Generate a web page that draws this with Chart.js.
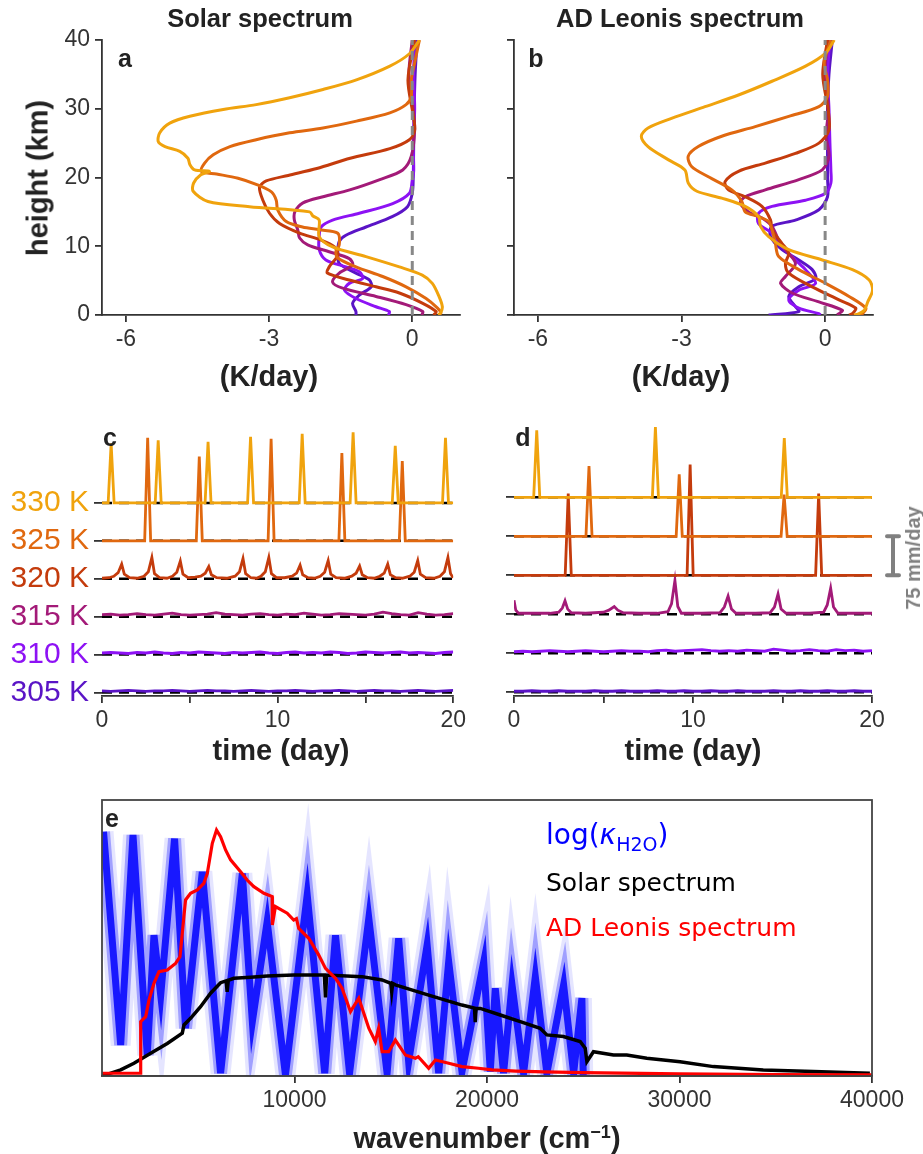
<!DOCTYPE html>
<html><head><meta charset="utf-8">
<script src="https://cdn.jsdelivr.net/npm/chart.js@4/dist/chart.umd.min.js"></script>
<style>
body{margin:0;background:#fff;width:923px;height:1154px;position:relative;overflow:hidden;font-family:"Liberation Sans",Arial,sans-serif;color:#222;}
canvas{position:absolute;}
.t{position:absolute;white-space:nowrap;transform:translate(-50%,-50%);line-height:1;}
.b{font-weight:bold;}
</style></head><body>
<canvas id="ca" width="470" height="400" style="left:0;top:0"></canvas>
<canvas id="cb" width="453" height="400" style="left:470px;top:0"></canvas>
<canvas id="cc" width="470" height="370" style="left:0;top:400px"></canvas>
<canvas id="cd" width="453" height="370" style="left:470px;top:400px"></canvas>
<canvas id="ce" width="923" height="374" style="left:0;top:780px"></canvas>

<div class="t b" style="left:260px;top:19px;font-size:25.5px">Solar spectrum</div>
<div class="t b" style="left:680px;top:19px;font-size:25.5px">AD Leonis spectrum</div>
<div class="t b" style="left:38px;top:178px;font-size:29px;transform:translate(-50%,-50%) rotate(-90deg)">height (km)</div>
<div class="t b" style="left:269px;top:376px;font-size:29px">(K/day)</div>
<div class="t b" style="left:681px;top:376px;font-size:29px">(K/day)</div>
<div class="t b" style="left:281px;top:750px;font-size:29px">time (day)</div>
<div class="t b" style="left:693px;top:750px;font-size:29px">time (day)</div>
<div class="t b" style="left:487px;top:1138px;font-size:29px">wavenumber (cm<sup style="font-size:18px">−1</sup>)</div>
<div class="t b" style="left:125px;top:58px;font-size:25px">a</div>
<div class="t b" style="left:536px;top:58px;font-size:25px">b</div>
<div class="t b" style="left:110px;top:437px;font-size:25px">c</div>
<div class="t b" style="left:523px;top:437px;font-size:25px">d</div>
<div class="t b" style="left:112px;top:818px;font-size:25px">e</div>
<div class="t b" style="left:913px;top:558px;font-size:20px;color:#808080;transform:translate(-50%,-50%) rotate(-90deg)">75 mm/day</div>
<div style="position:absolute;left:546px;top:818px;font-size:28px;color:#0000ff;font-family:'DejaVu Sans',sans-serif;white-space:nowrap">log(<i>κ</i><sub style="font-size:19px">H2O</sub>)</div>
<div style="position:absolute;left:546px;top:868px;font-size:25px;color:#000;font-family:'DejaVu Sans',sans-serif;white-space:nowrap">Solar spectrum</div>
<div style="position:absolute;left:546px;top:913px;font-size:25px;color:#ff0000;font-family:'DejaVu Sans',sans-serif;white-space:nowrap">AD Leonis spectrum</div>

<script>
// ---------- Panels a/b: heating-rate profiles, pairs [K/day, height km] ----------
const solar330 = [[0.15,40],[-0.06,38],[-0.47,36.2],[-1.17,34.2],[-1.87,32.8],[-2.57,31.6],[-3.27,30.6],[-3.96,29.9],[-4.66,28.9],[-5.08,27.9],[-5.29,26.5],[-5.32,25.2],[-5.18,24.5],[-4.87,23.8],[-4.70,22.8],[-4.66,21.9],[-4.56,21.1],[-4.25,20.9],[-4.43,20.4],[-4.58,19.2],[-4.59,18.0],[-4.28,16.5],[-3.41,15.75],[-2.15,15.0],[-2.08,14.4],[-1.95,13.8],[-1.95,11.4],[-1.67,9.9],[-0.97,8.5],[-0.27,7.0],[0.21,5.8],[0.42,4.6],[0.56,2.7],[0.63,1.2],[0.6,0.4],[0.55,0]];
const solar325 = [[0.15,40],[0.05,36.7],[-0.02,34.2],[-0.02,31.8],[-0.13,30.6],[-0.47,29.4],[-1.17,28.2],[-1.87,27.2],[-2.57,26.5],[-3.27,25.5],[-3.82,24.5],[-4.17,23.3],[-4.35,22.1],[-4.42,20.9],[-4.1,20.5],[-3.65,19.9],[-3.27,19.0],[-2.95,17.9],[-2.85,16.7],[-2.82,15.3],[-2.64,13.6],[-2.30,12.8],[-1.95,12.4],[-1.56,11.9],[-1.53,10.2],[-1.6,9.2],[-1.56,8.3],[-1.18,7.0],[-0.62,5.6],[-0.13,4.1],[0.29,2.4],[0.53,1.0],[0.6,0.3],[0.55,0]];
const solar320 = [[0.05,40],[-0.09,34.2],[0.01,29.4],[0.05,26.9],[-0.06,25.5],[-0.47,24.2],[-1.3,22.8],[-2.0,21.3],[-2.6,20.3],[-3.06,19.5],[-3.2,18.6],[-3.13,16.7],[-2.99,14.8],[-2.78,13.3],[-2.36,11.9],[-1.91,10.9],[-1.63,9.9],[-1.56,8.7],[-1.74,7.0],[-1.78,6.1],[-1.32,5.1],[-0.76,4.1],[-0.27,3.2],[0.22,1.7],[0.5,0.5],[0.45,0]];
const solar315 = [[0.0,40],[-0.07,35],[0.02,30],[0.05,26.9],[-0.02,23.1],[-0.2,21.1],[-0.68,19.7],[-1.31,18.2],[-1.87,17.2],[-2.29,16.3],[-2.46,15.0],[-2.47,13.8],[-2.4,12.4],[-2.36,11.2],[-2.19,10.2],[-1.74,9.2],[-1.32,8.2],[-1.25,7.3],[-1.53,6.1],[-1.67,4.8],[-1.46,3.9],[-0.76,2.7],[-0.13,1.5],[0.22,0.5],[0.2,0]];
const solar310 = [[0.05,40],[0.03,35],[0.05,30],[0.02,25],[0.03,21],[0.0,19.6],[-0.06,17.7],[-0.41,16.2],[-1.11,14.8],[-1.67,13.8],[-1.91,12.8],[-1.95,11.4],[-1.95,9.5],[-1.81,8.0],[-1.39,7.0],[-1.11,6.3],[-1.04,5.3],[-1.32,4.6],[-1.42,3.6],[-1.18,2.4],[-0.76,1.2],[-0.48,0.5],[-0.5,0]];
const solar305 = [[0.1,40],[0.06,35],[0.04,30],[0.03,25],[0.02,20],[0.0,17.7],[-0.1,15.75],[-0.42,14.3],[-0.97,12.8],[-1.39,11.6],[-1.53,10.7],[-1.56,9.0],[-1.53,7.5],[-1.18,6.1],[-0.9,5.1],[-0.86,4.1],[-1.11,2.9],[-1.25,1.7],[-1.18,0.5],[-1.18,0]];

const adleo330 = [[0.19,40],[0.01,38.1],[-0.41,36.2],[-1.11,34.0],[-1.81,32.0],[-2.51,30.3],[-3.21,28.6],[-3.70,27.2],[-3.84,26.0],[-3.70,24.5],[-3.28,22.6],[-2.93,21.1],[-2.86,19.2],[-2.68,18.0],[-2.16,17.0],[-1.67,15.8],[-1.39,14.3],[-1.35,12.9],[-1.18,11.4],[-0.76,9.5],[-0.06,8.0],[0.57,6.6],[0.92,5.1],[0.99,3.6],[0.89,1.9],[0.82,0.7],[0.71,0.2],[0.6,0]];
const adleo325 = [[0.12,40],[-0.02,36.7],[0.05,34.2],[0.05,31.8],[-0.13,30.3],[-0.76,28.9],[-1.46,27.4],[-2.16,26.0],[-2.65,24.5],[-2.86,23.1],[-2.79,21.6],[-2.44,20.1],[-1.95,18.2],[-1.74,16.5],[-1.67,15.0],[-1.39,14.3],[-1.18,13.6],[-1.11,12.4],[-1.04,10.4],[-0.97,8.5],[-0.55,6.6],[0.01,4.6],[0.50,2.7],[0.85,1.0],[0.78,0.2],[0.7,0]];
const adleo320 = [[0.05,40],[-0.05,35],[0.06,30],[0.08,26.9],[-0.13,25.0],[-0.62,23.5],[-1.25,22.1],[-1.81,20.9],[-2.09,19.4],[-2.02,18.2],[-1.67,17.2],[-1.32,15.8],[-1.14,13.8],[-1.11,12.4],[-0.90,10.4],[-0.76,9.0],[-0.83,7.5],[-0.76,6.1],[-0.27,4.1],[0.29,2.2],[0.64,1.0],[0.57,0.2],[0.5,0]];
const adleo315 = [[0.05,40],[0.0,35],[0.07,30],[0.02,26],[0.08,23.1],[-0.06,21.1],[-0.55,19.7],[-1.25,18.2],[-1.67,17.2],[-1.77,16.3],[-1.60,15.0],[-1.32,14.1],[-1.11,12.9],[-0.97,10.9],[-0.83,9.5],[-0.62,7.5],[-0.83,5.6],[-0.93,4.6],[-0.69,3.2],[-0.13,1.9],[0.36,0.7],[0.29,0.2],[0.25,0]];
const adleo310 = [[0.1,40],[0.05,35],[0.08,30],[0.1,25],[0.12,21],[0.12,19.2],[0.01,17.7],[-0.41,16.7],[-1.11,15.8],[-1.39,14.8],[-1.39,13.3],[-1.11,11.9],[-0.90,10.0],[-0.62,8.0],[-0.41,6.6],[-0.2,4.6],[-0.55,3.6],[-0.76,2.2],[-0.55,1.0],[-0.13,0.2],[-0.1,0]];
const adleo305 = [[0.15,40],[0.08,35],[0.05,30],[0.05,25],[0.05,20],[0.05,17.2],[-0.13,15.3],[-0.62,13.8],[-1.11,12.9],[-1.14,11.4],[-0.90,9.5],[-0.55,8.0],[-0.27,6.6],[-0.2,5.3],[-0.55,4.1],[-0.76,2.7],[-0.62,1.2],[-0.55,0.5],[-1.18,0]];
const zeroLine = [[0,0],[0,40]];

// ---------- Panels c/d: precipitation time series (mm/day) ----------
const halfDays = [0,0.5,1,1.5,2,2.5,3,3.5,4,4.5,5,5.5,6,6.5,7,7.5,8,8.5,9,9.5,10,10.5,11,11.5,12,12.5,13,13.5,14,14.5,15,15.5,16,16.5,17,17.5,18,18.5,19,19.5,20];
const solarRain330 = [[0,0],[0.35,0],[0.52,118],[0.69,0],[3.03,0],[3.2,124],[3.37,0],[5.87,0],[6.04,121],[6.21,0],[8.29,0],[8.46,131],[8.63,0],[11.23,0],[11.4,137],[11.57,0],[14.13,0],[14.3,140],[14.47,0],[16.53,0],[16.7,113],[16.87,0],[19.39,0],[19.56,129],[19.73,0],[20,0]];
const solarRain325 = [[0,0],[2.43,0],[2.6,204],[2.77,0],[5.37,0],[5.54,167],[5.71,0],[9.46,0],[9.63,202],[9.8,0],[13.49,0],[13.66,174],[13.83,0],[16.93,0],[17.1,158],[17.27,0],[20,0]];
const solarRain320 = [[0,1],[0.4,2],[0.67,5],[0.92,12],[1.12,29],[1.27,9],[1.57,2],[2.0,1],[2.39,5],[2.64,14],[2.84,42],[2.99,10],[3.29,2],[3.7,1],[4.01,5],[4.26,13],[4.46,35],[4.61,9],[4.91,2],[5.3,3],[5.63,5],[5.88,11],[6.08,24],[6.23,8],[6.53,2],[7.1,1],[7.58,5],[7.83,14],[8.03,40],[8.18,10],[8.48,2],[8.8,1],[9.05,5],[9.3,14],[9.5,42],[9.65,10],[9.95,2],[10.4,2],[10.83,5],[11.08,11],[11.28,27],[11.43,8],[11.73,2],[12.1,1],[12.43,5],[12.68,13],[12.88,36],[13.03,9],[13.33,2],[13.8,1],[14.22,5],[14.47,11],[14.67,25],[14.82,8],[15.12,2],[15.5,1],[15.82,5],[16.07,11],[16.27,29],[16.42,8],[16.72,2],[17.1,1],[17.53,5],[17.78,13],[17.98,36],[18.13,9],[18.43,2],[18.9,1],[19.25,5],[19.5,14],[19.7,42],[19.85,10],[20,2]];
const solarRain315 = [4,5,3,4,6,4,3,5,7,4,3,4,5,8,5,4,3,5,6,4,3,5,4,7,5,3,4,6,5,4,3,5,9,6,4,3,8,5,3,4,6];
const solarRain310 = [3,4,3,2,4,3,5,3,2,4,3,5,4,3,2,4,3,4,5,3,2,4,5,3,4,3,5,4,2,3,5,4,3,4,5,3,4,3,2,4,5];
const solarRain305 = [3,2,3,4,3,2,3,3,4,3,2,3,4,3,3,2,3,4,3,2,3,3,4,3,2,3,3,4,3,2,3,4,3,3,2,3,4,3,2,3,4];

const adleoRain330 = [[0,0],[1.1,0],[1.27,129],[1.44,0],[7.73,0],[7.9,135],[8.07,0],[14.93,0],[15.1,114],[15.27,0],[20,0]];
const adleoRain325 = [[0,0],[4.02,0],[4.19,135],[4.36,0],[9.06,0],[9.23,119],[9.4,0],[14.92,0],[15.09,80],[15.26,0],[20,0]];
const adleoRain320 = [[0,0],[2.86,0],[3.03,157],[3.2,0],[9.67,0],[9.84,213],[10.01,0],[16.85,0],[17.02,157],[17.19,0],[20,0]];
const adleoRain315 = [[0,27],[0.1,8],[0.25,2],[1,2],[2,2],[2.5,4],[2.7,12],[2.85,26],[3.0,10],[3.2,3],[4,2],[4.5,3],[5.0,4],[5.3,8],[5.6,15],[5.8,8],[6.1,3],[7,2],[8,2],[8.6,5],[8.8,20],[8.99,65],[9.15,15],[9.35,2],[10.5,2],[11.5,3],[11.75,14],[11.96,35],[12.15,10],[12.4,2],[13.5,2],[14.3,3],[14.55,14],[14.75,39],[14.92,10],[15.2,2],[16.5,2],[17.3,4],[17.5,18],[17.69,50],[17.85,14],[18.1,2],[19,2],[20,2]];
const adleoRain310 = [3,4,3,4,5,4,3,4,5,4,3,4,5,4,4,3,5,6,4,5,6,7,5,4,5,4,6,5,4,8,6,4,5,7,5,4,7,5,6,4,5];
const adleoRain305 = [2,2,3,2,2,3,2,2,2,3,2,2,3,2,2,2,3,2,2,3,2,2,3,2,2,3,2,2,2,3,2,2,3,2,2,3,2,2,3,2,2];
const rainZero = [[0,0],[20,0]];
const rowStep = 75; // mm/day between stacked rows (scale bar)

// ---------- Panel e: spectra, pairs [wavenumber, relative value] ----------
const h2oLog = [[80,88.5],[970,11.2],[1610,87.3],[2350,7.6],[2700,51],[3050,29.3],[3770,86],[4340,17.3],[5210,74],[6160,1],[7290,73.4],[7810,19.7],[8580,55.9],[9530,0.4],[10660,65.6],[11570,1],[12130,51],[12860,1],[13860,57.1],[14810,1],[15410,49.9],[15930,5.2],[16890,47.5],[17490,1],[18010,41.4],[18700,1.6],[19830,41.4],[20170,1.6],[20430,31.8],[20860,1],[21300,33],[21900,1],[22510,36],[23110,1],[23980,33],[24500,1],[24930,28.2],[25000,0]];
const solarSpec = [[0,0],[970,2.2],[1660,4.6],[2530,8.2],[3390,11.8],[4170,15.5],[4260,18.5],[4600,20.9],[5120,25.1],[5640,30.0],[6160,33.8],[6450,34.5],[6500,30.5],[6560,34.7],[6850,35.4],[7720,35.8],[8580,36.2],[9960,36.6],[11550,36.6],[11610,28.5],[11670,36.6],[13510,36.0],[14550,34.8],[15000,33.6],[15050,30.5],[15100,33.5],[15240,33.0],[16970,29.3],[18700,25.7],[19350,24.6],[19390,19.5],[19430,24.5],[19650,24.5],[20690,22.1],[21730,19.7],[22760,17.3],[23110,14.9],[23970,14.3],[24840,12.5],[25100,10.1],[25190,5.2],[25530,8.8],[26570,7.6],[27260,7.6],[28300,6.4],[30030,5.2],[31760,3.4],[34350,2.2],[36950,1.6],[39890,1.0]];
const adleoSpec = [[0,1],[2000,1],[2010,19.7],[2270,21.5],[2440,27.5],[2700,33.6],[2960,37.8],[3390,38.4],[3820,40.8],[4050,43.2],[4170,51.7],[4340,63.8],[4600,66.2],[4950,67.4],[5290,69.8],[5470,73.4],[5730,84.3],[5950,89.1],[6160,86.7],[6420,81.9],[6680,78.3],[7200,74.0],[7540,71.0],[7890,68.6],[8410,66.2],[8840,65.0],[8850,54.7],[9010,61.4],[9620,59.0],[9960,56.5],[10100,57],[10220,53.5],[10740,49.9],[11260,43.8],[11610,39.0],[12130,35.4],[12470,31.8],[12910,23.3],[13340,28.2],[13860,17.3],[14200,12.5],[14370,17.3],[14550,8.8],[14890,8.8],[15240,13.0],[15760,7.6],[16280,6.4],[16430,7],[16970,2.8],[17320,5.8],[18010,4.6],[18700,3.4],[19560,2.8],[20260,2.2],[21500,1.8],[23000,1.5],[25000,1.2],[30000,0.8],[35000,0.5],[40000,0.4]];

const tempLabels = ['305 K','310 K','315 K','320 K','325 K','330 K'];
const tempColors = ['#5a14c6','#8d12f4','#a31a78','#c43b0c','#e0680f','#f0a30d'];

// ---------- helpers ----------
const F = "'Liberation Sans', Arial, sans-serif";
const AX = '#333333';
const pts = arr => arr.map(p => ({x:p[0], y:p[1]}));
const ptsHalf = vals => vals.map((v,i) => ({x:halfDays[i], y:v}));
const shift = (list, off) => list.map(p => ({x:p.x, y:p.y + off}));
function fixed(size, horiz){ return s => { if(horiz) s.height = size; else s.width = size; }; }
function setTicks(vals){ return s => { s.ticks = vals.map(v => ({value:v})); }; }
const base = {responsive:false, animation:false, events:[], plugins:{legend:{display:false}, tooltip:{enabled:false}}};
function axis(extra){
  return Object.assign({
    grid:{display:true, drawOnChartArea:false, tickLength:7, color:AX, lineWidth:1.8},
    border:{color:AX, width:1.8},
    ticks:{font:{size:23, family:F}, color:AX, padding:4}
  }, extra);
}

// ---------- panels a/b ----------
function profileChart(id, series, showYLabels, yWidth, padRight){
  const ds = series.map((s,i) => ({data:pts(s), borderColor:tempColors[i], borderWidth:3, showLine:true, pointRadius:0, tension:0.3, order:6-i}));
  ds.push({data:pts(zeroLine), borderColor:'#888888', borderWidth:3, borderDash:[9,6], showLine:true, pointRadius:0, order:0});
  new Chart(document.getElementById(id), {
    type:'scatter', data:{datasets:ds},
    options:Object.assign({}, base, {
      layout:{padding:{left:0, top:40, right:padRight, bottom:0}},
      scales:{
        x:axis({min:-6.5, max:1.0, afterBuildTicks:setTicks([-6,-3,0]), afterFit:fixed(85,true)}),
        y:axis({min:0, max:40, afterBuildTicks:setTicks([0,10,20,30,40]), afterFit:fixed(yWidth,false),
          ticks:{display:showYLabels, font:{size:23, family:F}, color:AX, padding:5}})
      }
    })
  });
}
profileChart('ca', [solar305,solar310,solar315,solar320,solar325,solar330], true, 102, 10);
profileChart('cb', [adleo305,adleo310,adleo315,adleo320,adleo325,adleo330], false, 44, 50);

// ---------- panels c/d ----------
const scaleBar = {
  id:'scaleBar',
  afterDraw(chart){
    const y = chart.scales.y, ctx = chart.ctx;
    const x = chart.chartArea.right + 21;
    const y1 = y.getPixelForValue(4*rowStep), y2 = y.getPixelForValue(3*rowStep);
    ctx.save(); ctx.strokeStyle = '#808080'; ctx.lineWidth = 4; ctx.lineCap = 'round';
    ctx.beginPath(); ctx.moveTo(x,y1); ctx.lineTo(x,y2);
    ctx.moveTo(x-6,y1); ctx.lineTo(x+6,y1); ctx.moveTo(x-6,y2); ctx.lineTo(x+6,y2);
    ctx.stroke(); ctx.restore();
  }
};
function rainChart(id, rows, showLabels, yWidth, padRight, plugins){
  const ds = [];
  rows.forEach((r,i) => {
    ds.push({data:shift(r, i*rowStep), borderColor:tempColors[i], borderWidth:2.8, showLine:true, pointRadius:0, tension:0, order:6-i});
    ds.push({data:shift(pts(rainZero), i*rowStep), borderColor:'#000000', borderWidth:2.5, borderDash:[10,7], showLine:true, pointRadius:0, order:20});
  });
  new Chart(document.getElementById(id), {
    type:'scatter', data:{datasets:ds}, plugins:plugins,
    options:Object.assign({}, base, {
      layout:{padding:{left:0, top:15, right:padRight, bottom:0}},
      scales:{
        x:axis({min:0, max:20, afterBuildTicks:setTicks([0,5,10,15,20]), afterFit:fixed(74,true),
          ticks:{font:{size:23, family:F}, color:AX, padding:4, callback:v => (v % 10 === 0 ? String(v) : '')}}),
        y:axis({min:-7.1, max:533.3, afterBuildTicks:setTicks([0,1,2,3,4,5].map(k => k*rowStep)), afterFit:fixed(yWidth,false),
          border:{display:false},
          grid:{display:true, drawOnChartArea:false, tickLength:8, color:AX, lineWidth:1.8},
          ticks:{display:showLabels, padding:5, font:{size:30, family:F}, color:c => tempColors[c.index],
            callback:(v,i) => tempLabels[i]}})
      }
    })
  });
}
rainChart('cc', [ptsHalf(solarRain305), ptsHalf(solarRain310), ptsHalf(solarRain315), pts(solarRain320), pts(solarRain325), pts(solarRain330)], true, 102, 10, []);
rainChart('cd', [ptsHalf(adleoRain305), ptsHalf(adleoRain310), pts(adleoRain315), pts(adleoRain320), pts(adleoRain325), pts(adleoRain330)], false, 44, 51, [scaleBar]);

// ---------- panel e ----------
const frame = {
  id:'frame',
  afterDraw(chart){
    const a = chart.chartArea, ctx = chart.ctx;
    ctx.save(); ctx.strokeStyle = '#444444'; ctx.lineWidth = 1.8;
    ctx.strokeRect(a.left, a.top, a.right - a.left, a.bottom - a.top); ctx.restore();
  }
};
new Chart(document.getElementById('ce'), {
  type:'scatter',
  data:{datasets:[
    {data:pts(adleoSpec), borderColor:'#ff0000', borderWidth:3.2, showLine:true, pointRadius:0, order:0},
    {data:pts(solarSpec), borderColor:'#000000', borderWidth:3.5, showLine:true, pointRadius:0, order:1},
    {data:pts(h2oLog), borderColor:'rgba(0,0,255,0.85)', borderWidth:7, showLine:true, pointRadius:0, order:2},
    {data:pts(h2oLog), borderColor:'rgba(0,0,255,0.3)', borderWidth:13, showLine:true, pointRadius:0, order:3},
    {data:pts(h2oLog), borderColor:'rgba(0,0,255,0.1)', borderWidth:20, showLine:true, pointRadius:0, order:4}
  ]},
  plugins:[frame],
  options:Object.assign({}, base, {
    layout:{padding:{left:102, top:20, right:51, bottom:0}},
    scales:{
      x:axis({min:0, max:40000, afterBuildTicks:setTicks([10000,20000,30000,40000]), afterFit:fixed(78,true),
        ticks:{font:{size:23, family:F}, color:AX, padding:4, callback:v => String(v)}}),
      y:{display:false, min:0, max:100}
    }
  })
});
</script>
</body></html>
